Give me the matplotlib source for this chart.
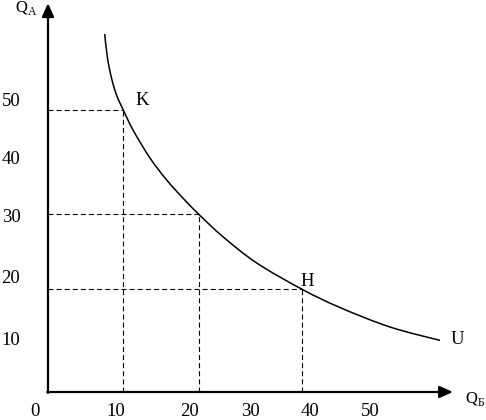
import matplotlib
matplotlib.use("Agg")
import numpy as np
import matplotlib.pyplot as plt
from matplotlib.path import Path
from matplotlib.patches import PathPatch

plt.rcParams["font.family"] = ["Liberation Serif", "DejaVu Serif"]
plt.rcParams["mathtext.fontset"] = "custom"
plt.rcParams["mathtext.rm"] = "Liberation Serif"

# indifference curve U (Q_B, Q_A)
u_x = [8.72, 9.15, 9.77, 10.54, 11.58, 13.12, 15.69, 18.26, 20.82, 23.23,
       26.97, 32.11, 39.15, 44.92, 52.62, 60.31]
u_y = [59.67, 55.67, 52.33, 49.5, 47.0, 43.58, 39.0, 35.33, 32.25, 29.58,
       25.83, 21.5, 17.08, 14.08, 10.83, 8.6]

# points projected onto the axes with dashed lines
mark_x = [11.6, 23.2, 39.15]
mark_y = [47.0, 29.6, 17.1]

# tick labels (the drawing places them loosely, not on an exact grid)
x_tick_text = ["0", "10", "20", "30", "40", "50"]
x_tick_pos = [-2.0, 10.4, 21.8, 31.1, 40.3, 49.5]
y_tick_text = ["10", "20", "30", "40", "50"]
y_tick_pos = [7.8, 18.2, 28.3, 38.0, 47.7]

X_END = 62.3
Y_END = 64.8


def smooth_path(xs, ys):
    # Catmull-Rom through the read points, drawn as cubic Bezier pieces
    pts = np.column_stack([xs, ys])
    verts = [pts[0]]
    codes = [Path.MOVETO]
    n = len(pts)
    for i in range(n - 1):
        p0 = pts[max(i - 1, 0)]
        p1 = pts[i]
        p2 = pts[i + 1]
        p3 = pts[min(i + 2, n - 1)]
        verts += [p1 + (p2 - p0) / 6.0, p2 - (p3 - p1) / 6.0, p2]
        codes += [Path.CURVE4] * 3
    return Path(verts, codes)


fig = plt.figure(figsize=(4.86, 4.2), dpi=100)
ax = fig.add_axes([0, 0, 1, 1])
ax.set_xlim(-48 / 6.5, 438 / 6.5)
ax.set_ylim(-28 / 6.0, 392 / 6.0)
ax.axis("off")

# axes with arrows
arrow = dict(arrowstyle="-|>,head_length=0.8,head_width=0.36", lw=1.6,
             color="black", shrinkA=0, shrinkB=0, mutation_scale=10)
ax.annotate("", xy=(0, Y_END), xytext=(0, -0.15), arrowprops=arrow)
ax.annotate("", xy=(X_END, 0), xytext=(-0.12, 0), arrowprops=arrow)

# dashed guides
for mx, my in zip(mark_x, mark_y):
    ax.plot([0, mx], [my, my], color="black", lw=0.8, dashes=(4.5, 2.8))
    ax.plot([mx, mx], [0, my], color="black", lw=0.8, dashes=(4.5, 2.8))

ax.add_patch(PathPatch(smooth_path(u_x, u_y), fill=False, edgecolor="black",
                       lw=1.1))

fs = 13.5
ax.text(mark_x[0] + 2.9, mark_y[0] + 0.8, "K", fontsize=fs, ha="center", va="baseline")
ax.text(mark_x[2] + 0.7, mark_y[2] + 0.6, "H", fontsize=fs, ha="center", va="baseline")
ax.text(u_x[-1] + 2.6, u_y[-1] - 0.6, "U", fontsize=fs, ha="center", va="baseline")

for t, p in zip(x_tick_text, x_tick_pos):
    ax.text(p, -4.0, t, fontsize=fs, ha="center", va="baseline")
for t, p in zip(y_tick_text, y_tick_pos):
    ax.text(-5.7, p, t, fontsize=fs, ha="center", va="baseline")

ax.text(-3.3, Y_END - 1.5, r"Q$_\mathrm{A}$", fontsize=12, ha="center", va="baseline")
ax.text(X_END + 1.8, -1.9, r"Q$_\mathrm{Б}$", fontsize=12, ha="left", va="baseline")

fig.savefig("out.png", dpi=100)
